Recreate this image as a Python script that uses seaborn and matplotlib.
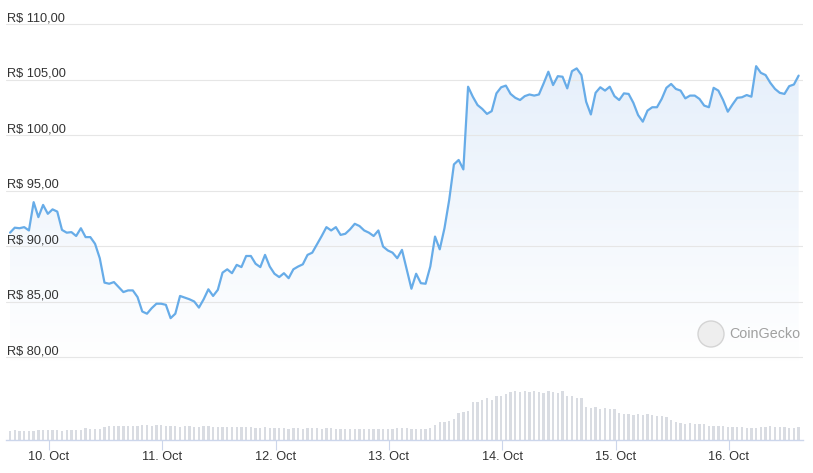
import numpy as np
import pandas as pd
import matplotlib
matplotlib.use('Agg')
import matplotlib.pyplot as plt
import matplotlib.dates as mdates
from matplotlib.colors import LinearSegmentedColormap
from matplotlib.patches import Circle
import seaborn as sns

# hourly price (R$)
price = [
    91.2, 91.65, 91.6, 91.7, 91.4, 93.95, 92.6, 93.7, 92.9, 93.3,
    93.1, 91.45, 91.2, 91.25, 90.9, 91.6, 90.8, 90.8, 90.2, 88.9,
    86.7, 86.6, 86.75, 86.3, 85.85, 86.0, 86.0, 85.4, 84.1, 83.9,
    84.4, 84.8, 84.8, 84.7, 83.5, 83.9, 85.5, 85.35, 85.2, 85.0,
    84.45, 85.2, 86.1, 85.5, 86.05, 87.6, 87.9, 87.55, 88.3, 88.1,
    89.1, 89.1, 88.4, 88.1, 89.2,
    88.15, 87.5, 87.2, 87.55, 87.1, 87.9, 88.15, 88.35, 89.2, 89.4,
    90.15, 90.9, 91.7, 91.4, 91.7, 91.0, 91.1, 91.5, 92.0, 91.8,
    91.4, 91.2, 90.9, 91.4, 89.95, 89.6, 89.4, 88.9, 89.65, 87.9,
    86.15, 87.5, 86.65, 86.6, 88.15, 90.85, 89.7, 91.6, 94.15, 97.35,
    97.75, 96.9, 104.35, 103.45, 102.7, 102.35, 101.9, 102.15, 103.75, 104.3,
    104.45, 103.7, 103.35, 103.15, 103.5, 103.65, 103.55, 103.65,
    104.65, 105.7, 104.5, 105.3, 105.25, 104.2, 105.75, 106.0, 105.4, 103.0,
    101.85, 103.8, 104.3, 104.0, 104.35, 103.5, 103.15, 103.75, 103.7, 102.9,
    101.8, 101.2, 102.2, 102.5, 102.5, 103.25, 104.25, 104.6, 104.15, 104.0,
    103.3, 103.55, 103.55, 103.25, 102.65, 102.5, 104.25, 104.0, 103.15, 102.1,
    102.75, 103.35, 103.4, 103.6, 103.45, 106.2, 105.6, 105.4, 104.7, 104.15,
    103.8, 103.7, 104.4, 104.55, 105.35,
]

# hourly volume (relative units)
volume = [
    9, 10, 9, 8.7, 9, 9, 10, 10, 10, 10, 10, 9, 10, 10, 10, 10, 12, 11, 11, 11,
    13, 14, 14, 14, 14, 14, 14, 14, 15, 15, 14, 15, 15, 14, 14, 14, 13, 14, 14, 13,
    13, 14, 14, 13, 13, 13, 13, 13, 13, 13, 13, 13, 12.5, 12.5, 13, 12, 12, 12.5, 12, 11.5,
    12, 12, 11.5, 12, 12, 12, 11.5, 12, 12, 11.5, 11.5, 11, 11, 11, 11, 11, 11, 11, 11, 11,
    11, 11, 12, 12, 12,
    11.5, 11.5, 11.5, 11.5, 12, 15, 18, 18, 19, 21, 27, 28, 29, 38, 38, 40, 42, 40, 44, 44,
    46, 48, 49, 48, 49, 48, 49, 48, 47, 49, 48, 47, 49, 44, 44, 42, 42, 33, 32, 33,
    31, 32, 31, 31, 27, 26, 26, 25, 26, 25, 26, 25, 24, 24, 23, 20, 18, 17, 16, 17,
    16, 16, 16, 14, 14, 14, 14, 13, 13, 13, 13, 12, 12, 12, 13, 13, 14, 13, 13, 13,
    12, 12, 13,
]

yticks = [80, 85, 90, 95, 100, 105, 110]
ytick_labels = ['R$ 80,00', 'R$ 85,00', 'R$ 90,00', 'R$ 95,00',
                'R$ 100,00', 'R$ 105,00', 'R$ 110,00']

times = pd.date_range('2023-10-09 15:45', periods=len(price), freq='h')
df = pd.DataFrame({'time': times, 'price': price, 'volume': volume})

sns.set_theme(style='white')
plt.rcParams['font.family'] = ['Liberation Sans', 'DejaVu Sans']

W, H = 813, 473
fig = plt.figure(figsize=(W / 100, H / 100), dpi=100)


def px_axes(x0, y0, x1, y1):
    return fig.add_axes([x0 / W, 1 - y1 / H, (x1 - x0) / W, (y1 - y0) / H])


ax = px_axes(6, 18, 803, 362)
axv = px_axes(6, 370, 803, 440)

# x range: 10 Oct at px 49, 113.3 px per day
day0 = mdates.date2num(pd.Timestamp('2023-10-10'))
ppd = 113.33
xl = day0 - (49 - 6) / ppd
xr = day0 + (803 - 49) / ppd

# y range: 110 at px 24, 80 at px 357
ppu = (357 - 24) / 30
ytop = 110 + (24 - 18) / ppu
ybot = 80 - (362 - 357) / ppu

# price line + gradient fill
sns.lineplot(data=df, x='time', y='price', ax=ax, color='#67ace8', lw=1.6, zorder=3)
poly = ax.fill_between(df['time'], df['price'], ybot, color='none', lw=0)
grad = np.linspace(1, 0, 256).reshape(-1, 1)
cmap = LinearSegmentedColormap.from_list('g', ['#ffffff', '#e2edfa'])
img = ax.imshow(grad, aspect='auto', cmap=cmap, extent=[xl, xr, ybot, ytop],
                origin='upper', zorder=1)
img.set_clip_path(poly.get_paths()[0], transform=ax.transData)

ax.set_xlim(xl, xr)
ax.set_ylim(ybot, ytop)
ax.set_yticks(yticks)
ax.set_yticklabels([])
ax.set_xticks([])
ax.set_xlabel('')
ax.set_ylabel('')
ax.tick_params(left=False, bottom=False)
ax.yaxis.grid(True, color='#e6e6e6', lw=0.8)
ax.set_axisbelow(False)
for s in ax.spines.values():
    s.set_visible(False)
for v, lab in zip(yticks, ytick_labels):
    ax.annotate(lab, xy=(0, v), xycoords=ax.get_yaxis_transform(),
                xytext=(0.5, 0), textcoords='offset points',
                ha='left', va='bottom', fontsize=9.2, color='#333333', zorder=4)

# watermark
circ = Circle((711, H - 334), 13, transform=None, facecolor='#eeeeee',
              edgecolor='#d4d4d4', lw=1, zorder=5)
fig.patches.append(circ)
fig.text(729 / W, 1 - 334 / H, 'CoinGecko', ha='left', va='center',
         fontsize=10.3, color='#a0a0a0')

# volume bars
axv.bar(df['time'], df['volume'], width=0.5 / 24, color='#d9dce2', edgecolor='none')
axv.set_xlim(xl, xr)
axv.set_ylim(0, 70)
axv.set_yticks([])
axv.xaxis.set_major_locator(mdates.DayLocator())
axv.xaxis.set_major_formatter(mdates.DateFormatter('%d. %b'))
axv.tick_params(axis='x', direction='out', length=7.5, width=0.8, color='#ccd6eb',
                labelcolor='#333333', labelsize=9.2, pad=0.5, bottom=True)
for k, s in axv.spines.items():
    s.set_visible(k == 'bottom')
axv.spines['bottom'].set_color('#ccd6eb')
axv.spines['bottom'].set_linewidth(1)

fig.savefig('out.png', dpi=100)
